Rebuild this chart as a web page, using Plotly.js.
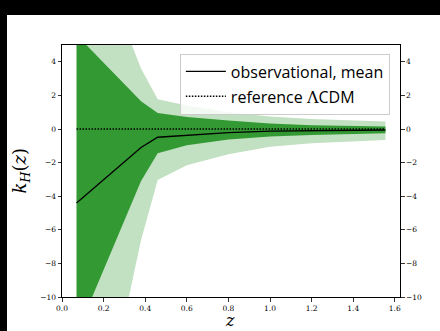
<!DOCTYPE html>
<html>
<head>
<meta charset="utf-8">
<script src="https://cdn.plot.ly/plotly-3.0.1.min.js"></script>
<style>
  html, body { margin: 0; padding: 0; background: #000; width: 440px; height: 331px; overflow: hidden; }
  #chart { position: absolute; left: 7px; top: 15px; width: 433px; height: 316px; background: #fff; }
</style>
</head>
<body>
<div id="chart"></div>
<script>
// redshift samples
const z          = [0.07, 0.38, 0.46, 0.6, 0.8, 1.0, 1.2, 1.4, 1.555];
// observational mean of k_H(z)
const meanKH     = [-4.4, -1.1, -0.49, -0.38, -0.21, -0.13, -0.10, -0.08, -0.06];
// inner (dark) band
const innerUpper = [5.6, 1.65, 0.95, 0.72, 0.50, 0.32, 0.22, 0.17, 0.15];
const innerLower = [-12.2, -3.1, -1.45, -0.96, -0.62, -0.45, -0.35, -0.29, -0.25];
// outer (light) band
const outerUpper = [13.4, 3.6, 1.77, 1.4, 1.0, 0.74, 0.60, 0.50, 0.45];
const outerLower = [-24.6, -6.6, -3.04, -2.16, -1.5, -1.05, -0.85, -0.72, -0.65];
// reference LCDM
const refKH      = z.map(() => 0);
const xTicks = [0.0, 0.2, 0.4, 0.6, 0.8, 1.0, 1.2, 1.4, 1.6];
const yTicks = [-10, -8, -6, -4, -2, 0, 2, 4];

const LIGHT = '#c2e0c2';
const DARK = '#339933';

const traces = [
  {x: z, y: outerLower, mode: 'lines', line: {width: 0, color: LIGHT}, showlegend: false, hoverinfo: 'skip'},
  {x: z, y: outerUpper, mode: 'lines', line: {width: 0, color: LIGHT}, fill: 'tonexty', fillcolor: LIGHT, showlegend: false, hoverinfo: 'skip'},
  {x: z, y: innerLower, mode: 'lines', line: {width: 0, color: DARK}, showlegend: false, hoverinfo: 'skip'},
  {x: z, y: innerUpper, mode: 'lines', line: {width: 0, color: DARK}, fill: 'tonexty', fillcolor: DARK, showlegend: false, hoverinfo: 'skip'},
  {x: z, y: meanKH, mode: 'lines', line: {color: '#000', width: 1.3}, name: 'observational, mean', legendgroup: 'a'},
  {x: z, y: refKH, mode: 'lines', line: {color: '#000', width: 1.5, dash: '1.5px,1.5px'}, name: 'reference <span style="font-family:\'DejaVu Serif\'">Λ</span>CDM', legendgroup: 'b', yaxis: 'y2'}
];

const tickFont = {family: 'DejaVu Serif, serif', size: 7.5, color: '#000'};

const layout = {
  width: 433, height: 316,
  margin: {l: 55, r: 40, t: 30, b: 34, pad: 0},
  paper_bgcolor: '#fff', plot_bgcolor: '#fff',
  showlegend: true,
  legend: {
    x: 0.97, xanchor: 'right', y: 0.966, yanchor: 'top',
    bgcolor: 'rgba(255,255,255,0.8)', bordercolor: '#cccccc', borderwidth: 1,
    font: {family: 'Open Sans, sans-serif', size: 16, color: '#000'},
    itemwidth: 40, tracegroupgap: 1, traceorder: 'grouped'
  },
  xaxis: {
    range: [0, 1.625], tickvals: xTicks, ticktext: xTicks.map(v => v.toFixed(1)),
    ticks: 'outside', ticklen: 3.5, tickwidth: 0.8, tickcolor: '#000',
    showline: true, linecolor: '#000', linewidth: 1, mirror: true,
    showgrid: false, zeroline: false, tickfont: tickFont
  },
  yaxis: {
    range: [-10, 5], tickvals: yTicks,
    ticks: 'outside', ticklen: 3.5, tickwidth: 0.8, tickcolor: '#000',
    showline: true, linecolor: '#000', linewidth: 1,
    showgrid: false, zeroline: false, tickfont: tickFont
  },
  yaxis2: {
    range: [-10, 5], tickvals: yTicks, overlaying: 'y', side: 'right', anchor: 'x',
    ticks: 'outside', ticklen: 3.5, tickwidth: 0.8, tickcolor: '#000',
    showline: true, linecolor: '#000', linewidth: 1,
    showgrid: false, zeroline: false, tickfont: tickFont
  },
  annotations: [
    {text: '<i>k<sub>H</sub></i>(<i>z</i>)', xref: 'paper', yref: 'paper', x: -0.12, y: 0.5,
     textangle: -90, showarrow: false, xanchor: 'center', yanchor: 'middle',
     font: {family: 'DejaVu Serif, serif', size: 18, color: '#000'}},
    {text: '<i>z</i>', xref: 'paper', yref: 'paper', x: 0.496, y: -0.094,
     showarrow: false, xanchor: 'center', yanchor: 'middle',
     font: {family: 'DejaVu Serif, serif', size: 16, color: '#000'}}
  ],
  hovermode: false
};

Plotly.newPlot('chart', traces, layout, {displayModeBar: false, staticPlot: true});
</script>
</body>
</html>
